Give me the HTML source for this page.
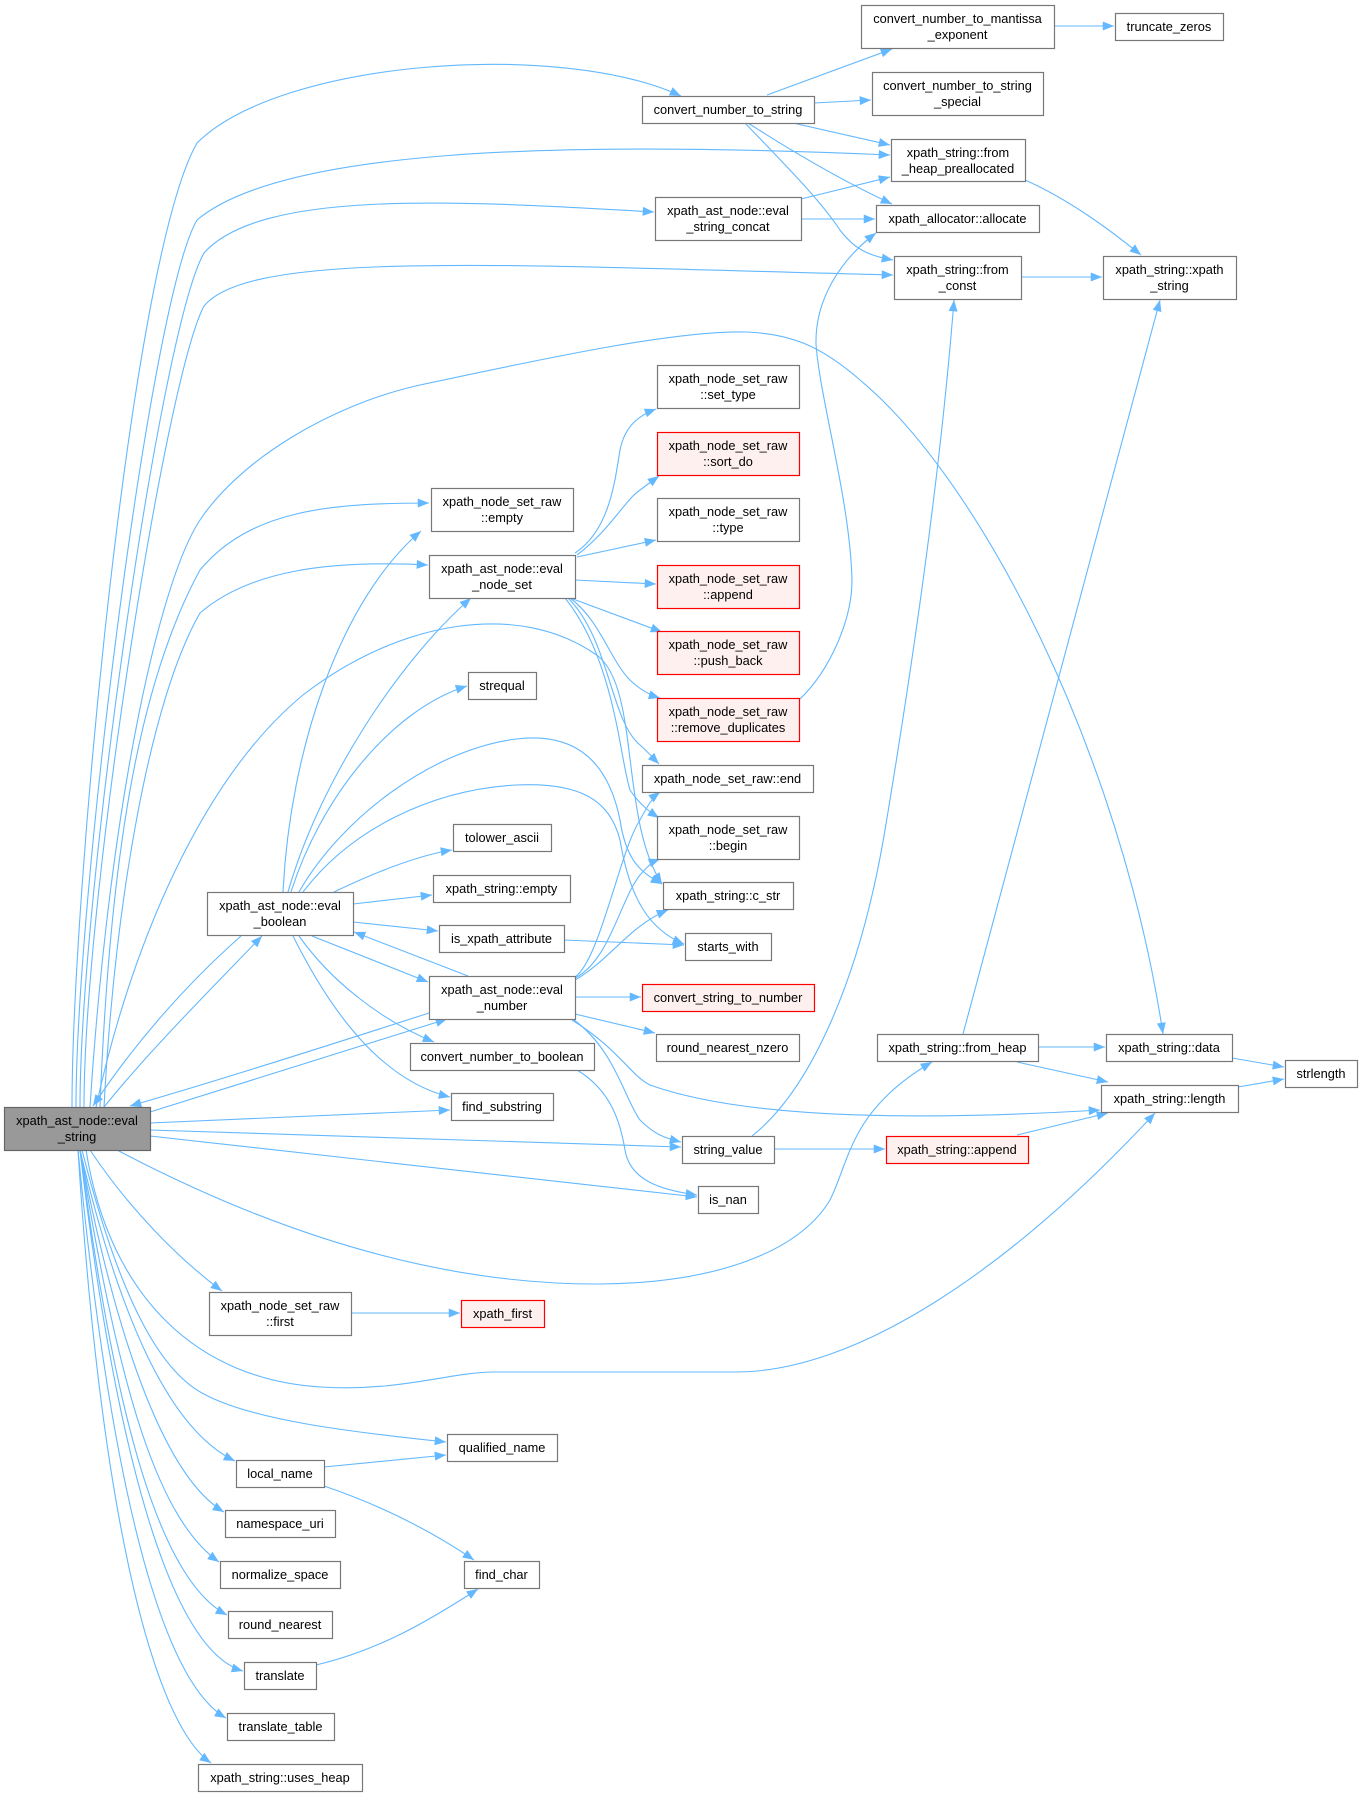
<!DOCTYPE html>
<html><head><meta charset="utf-8"><style>
html,body{margin:0;padding:0;background:#fff;}
svg{display:block;}
.e{fill:none;stroke:#63b8ff;stroke-width:1.1;marker-end:url(#ah);}
.n{fill:#fff;stroke:#777;stroke-width:1.2;}
.r{fill:#fff0f0;stroke:#f00;stroke-width:1.2;}
.g{fill:#999;stroke:#666;stroke-width:1.2;}
text{font-family:"Liberation Sans",Arial,sans-serif;font-size:12.8px;text-anchor:middle;fill:#000;}
</style></head><body>
<svg width="1362" height="1796" viewBox="0 0 1362 1796" xmlns="http://www.w3.org/2000/svg">
<defs><marker id="ah" viewBox="0 0 10 8" refX="10" refY="4" markerWidth="12" markerHeight="9" orient="auto" markerUnits="userSpaceOnUse"><path d="M0,0L10,4L0,8z" fill="#63b8ff"/></marker></defs>
<g>
<!-- root edges up -->
<path class="e" d="M72,1107 C72,900 130,260 197,143 C280,60 560,40 681,96"/>
<path class="e" d="M76,1107 C76,900 150,300 197,220 C280,150 550,140 890,155"/>
<path class="e" d="M80,1107 C80,900 160,330 204,253 C260,190 450,200 654,212"/>
<path class="e" d="M84,1107 C84,900 165,380 204,306 C250,250 500,265 893,275"/>
<path class="e" d="M90,1107 C110,800 160,580 200,520 C240,460 330,405 420,385 C560,355 680,330 747,332 C790,334 820,345 860,380 C980,480 1120,750 1163,1034"/>
<path class="e" d="M100,1107 C110,850 140,680 200,570 C250,510 330,503 429,503"/>
<path class="e" d="M104,1107 C115,900 150,700 200,613 C250,570 330,560 428,565"/>
<path class="e" d="M96,1107 C130,950 200,780 303,695 C400,620 520,600 598,656 C640,690 620,820 662,884"/>
<!-- eval_boolean -->
<path class="e" d="M299,892 C340,820 430,750 516,739 C590,730 612,780 620,820 C626,860 640,872 662,884"/>
<path class="e" d="M303,892 C350,830 430,790 516,785 C580,782 610,800 620,840 C630,900 650,930 684,944"/>
<path class="e" d="M291,892 C320,800 390,710 467,686"/>
<path class="e" d="M288,892 C320,780 400,660 471,598"/>
<path class="e" d="M283,892 C290,750 340,600 421,531"/>
<path class="e" d="M334,892 C380,870 420,855 452,850"/>
<path class="e" d="M353,904 L432,895"/>
<path class="e" d="M353,922 L438,931"/>
<path class="e" d="M468,976 L354,932"/>
<path class="e" d="M312,936 L428,982"/>
<path class="e" d="M299,936 C330,980 380,1020 434,1042"/>
<path class="e" d="M293,936 C330,1010 380,1080 450,1097"/>
<path class="e" d="M241,936 C180,990 130,1050 93,1106"/>
<path class="e" d="M104,1107 C150,1050 210,990 262,936"/>
<path class="e" d="M429,1013 C330,1045 220,1080 130,1106"/>
<path class="e" d="M150,1112 C250,1080 350,1050 447,1019"/>
<path class="e" d="M150,1123 L450,1110"/>
<path class="e" d="M150,1130 L681,1147"/>
<path class="e" d="M150,1136 L697,1197"/>
<path class="e" d="M117,1150 C250,1220 420,1285 600,1284 C720,1283 800,1250 830,1200 C850,1160 850,1110 932,1062"/>
<path class="e" d="M86,1150 C110,1300 200,1380 321,1387 C400,1392 450,1372 494,1372 L736,1372 C850,1372 1000,1280 1155,1113"/>
<path class="e" d="M90,1150 C130,1210 180,1260 222,1291"/>
<path class="e" d="M82,1150 C120,1300 160,1370 202,1393 C250,1420 350,1432 446,1442"/>
<path class="e" d="M80,1150 C120,1320 170,1430 235,1461"/>
<path class="e" d="M80,1150 C120,1360 170,1480 224,1512"/>
<path class="e" d="M80,1150 C120,1400 160,1520 219,1562"/>
<path class="e" d="M80,1150 C115,1420 160,1580 227,1615"/>
<path class="e" d="M80,1150 C115,1450 170,1650 243,1671"/>
<path class="e" d="M78,1150 C110,1480 160,1680 226,1718"/>
<path class="e" d="M78,1150 C100,1500 150,1720 211,1763"/>
<path class="e" d="M324,1467 L446,1455"/>
<path class="e" d="M324,1486 C380,1505 430,1530 474,1560"/>
<path class="e" d="M316,1665 C380,1650 430,1620 478,1589"/>
<path class="e" d="M351,1313 L460,1313"/>
<!-- eval_number -->
<path class="e" d="M575,997 L641,997"/>
<path class="e" d="M575,1014 L655,1033"/>
<path class="e" d="M574,1020 C615,1050 625,1100 640,1120 C655,1135 665,1138 681,1142"/>
<path class="e" d="M572,1020 C620,1050 630,1075 650,1085 C720,1110 850,1125 1100,1110"/>
<path class="e" d="M575,977 C600,960 620,850 640,820 C648,805 652,798 660,792"/>
<path class="e" d="M575,978 C610,960 620,900 640,875 C648,866 652,862 660,859"/>
<path class="e" d="M575,980 C610,960 630,925 668,910"/>
<!-- eval_node_set -->
<path class="e" d="M575,553 C610,530 615,480 620,450 C625,425 640,415 656,409"/>
<path class="e" d="M577,555 C610,530 625,500 640,490 L659,476"/>
<path class="e" d="M577,557 L656,540"/>
<path class="e" d="M575,580 L656,584"/>
<path class="e" d="M573,599 L662,632"/>
<path class="e" d="M570,598 C600,620 610,660 630,680 C640,690 650,695 660,698"/>
<path class="e" d="M568,598 C610,640 610,720 640,745 C648,752 652,757 659,764"/>
<path class="e" d="M565,598 C615,660 620,760 630,790 C640,805 650,812 659,818"/>
<path class="e" d="M800,699 C830,670 852,620 852,580 C850,500 820,400 816,344 C815,300 840,260 876,233"/>
<!-- top -->
<path class="e" d="M767,95 L892,49"/>
<path class="e" d="M814,103 L871,100"/>
<path class="e" d="M793,123 L890,145"/>
<path class="e" d="M748,123 C790,150 840,180 892,204"/>
<path class="e" d="M745,123 C790,170 820,200 840,230 C855,250 870,256 893,260"/>
<path class="e" d="M801,199 L890,177"/>
<path class="e" d="M801,219 L875,219"/>
<path class="e" d="M1025,180 C1070,200 1110,230 1141,255"/>
<path class="e" d="M1021,277 L1102,277"/>
<path class="e" d="M1054,26 L1114,26"/>
<path class="e" d="M963,1034 L1160,300"/>
<path class="e" d="M752,1136 C810,1090 860,980 885,830 C910,680 940,480 954,300"/>
<path class="e" d="M774,1149 L885,1149"/>
<path class="e" d="M1017,1135 L1108,1113"/>
<path class="e" d="M1038,1047 L1105,1047"/>
<path class="e" d="M1017,1062 L1108,1082"/>
<path class="e" d="M1232,1058 L1284,1067"/>
<path class="e" d="M1238,1087 L1284,1079"/>
<path class="e" d="M564,940 L684,945"/>
<path class="e" d="M577,1070 C610,1090 620,1120 625,1150 C630,1180 660,1190 697,1195"/>
</g>
<g>
<rect class="g" x="4.5" y="1107.5" width="146" height="43"/><text x="77" y="1125">xpath_ast_node::eval</text><text x="77" y="1141">_string</text>
<rect class="n" x="642.5" y="96.5" width="172" height="27"/><text x="728" y="114">convert_number_to_string</text>
<rect class="n" x="861.5" y="5.5" width="193" height="43"/><text x="957.5" y="23">convert_number_to_mantissa</text><text x="957.5" y="39">_exponent</text>
<rect class="n" x="1115.5" y="13.5" width="108" height="27"/><text x="1169" y="31">truncate_zeros</text>
<rect class="n" x="872.5" y="72.5" width="171" height="43"/><text x="957.5" y="90">convert_number_to_string</text><text x="957.5" y="106">_special</text>
<rect class="n" x="891.5" y="139.5" width="134" height="42"/><text x="958" y="157">xpath_string::from</text><text x="958" y="173">_heap_preallocated</text>
<rect class="n" x="655.5" y="197.5" width="146" height="43"/><text x="728" y="215">xpath_ast_node::eval</text><text x="728" y="231">_string_concat</text>
<rect class="n" x="876.5" y="205.5" width="163" height="27"/><text x="957.5" y="223">xpath_allocator::allocate</text>
<rect class="n" x="894.5" y="256.5" width="127" height="43"/><text x="957.5" y="274">xpath_string::from</text><text x="957.5" y="290">_const</text>
<rect class="n" x="1103.5" y="256.5" width="133" height="43"/><text x="1169.5" y="274">xpath_string::xpath</text><text x="1169.5" y="290">_string</text>
<rect class="n" x="657.5" y="365.5" width="142" height="43"/><text x="728" y="383">xpath_node_set_raw</text><text x="728" y="399">::set_type</text>
<rect class="r" x="657.5" y="432.5" width="142" height="43"/><text x="728" y="450">xpath_node_set_raw</text><text x="728" y="466">::sort_do</text>
<rect class="n" x="657.5" y="498.5" width="142" height="43"/><text x="728" y="516">xpath_node_set_raw</text><text x="728" y="532">::type</text>
<rect class="r" x="657.5" y="565.5" width="142" height="43"/><text x="728" y="583">xpath_node_set_raw</text><text x="728" y="599">::append</text>
<rect class="r" x="657.5" y="631.5" width="142" height="43"/><text x="728" y="649">xpath_node_set_raw</text><text x="728" y="665">::push_back</text>
<rect class="r" x="657.5" y="698.5" width="142" height="43"/><text x="728" y="716">xpath_node_set_raw</text><text x="728" y="732">::remove_duplicates</text>
<rect class="n" x="642.5" y="765.5" width="171" height="27"/><text x="727.5" y="783">xpath_node_set_raw::end</text>
<rect class="n" x="657.5" y="816.5" width="142" height="43"/><text x="728" y="834">xpath_node_set_raw</text><text x="728" y="850">::begin</text>
<rect class="n" x="663.5" y="882.5" width="130" height="27"/><text x="728" y="900">xpath_string::c_str</text>
<rect class="n" x="685.5" y="933.5" width="86" height="27"/><text x="728" y="951">starts_with</text>
<rect class="r" x="642.5" y="984.5" width="172" height="27"/><text x="728" y="1002">convert_string_to_number</text>
<rect class="n" x="656.5" y="1034.5" width="143" height="27"/><text x="727.5" y="1052">round_nearest_nzero</text>
<rect class="n" x="877.5" y="1034.5" width="161" height="27"/><text x="957.5" y="1052">xpath_string::from_heap</text>
<rect class="n" x="1106.5" y="1034.5" width="126" height="27"/><text x="1169" y="1052">xpath_string::data</text>
<rect class="n" x="1285.5" y="1060.5" width="72" height="27"/><text x="1321" y="1078">strlength</text>
<rect class="n" x="1101.5" y="1085.5" width="137" height="27"/><text x="1169.5" y="1103">xpath_string::length</text>
<rect class="n" x="682.5" y="1136.5" width="92" height="27"/><text x="728" y="1154">string_value</text>
<rect class="r" x="886.5" y="1136.5" width="142" height="27"/><text x="957" y="1154">xpath_string::append</text>
<rect class="n" x="698.5" y="1186.5" width="60" height="27"/><text x="728" y="1204">is_nan</text>
<rect class="n" x="431.5" y="488.5" width="142" height="43"/><text x="502" y="506">xpath_node_set_raw</text><text x="502" y="522">::empty</text>
<rect class="n" x="429.5" y="555.5" width="146" height="43"/><text x="502" y="573">xpath_ast_node::eval</text><text x="502" y="589">_node_set</text>
<rect class="n" x="468.5" y="672.5" width="68" height="27"/><text x="502" y="690">strequal</text>
<rect class="n" x="453.5" y="824.5" width="98" height="27"/><text x="502" y="842">tolower_ascii</text>
<rect class="n" x="433.5" y="875.5" width="137" height="27"/><text x="501.5" y="893">xpath_string::empty</text>
<rect class="n" x="207.5" y="892.5" width="146" height="43"/><text x="280" y="910">xpath_ast_node::eval</text><text x="280" y="926">_boolean</text>
<rect class="n" x="439.5" y="925.5" width="125" height="27"/><text x="501.5" y="943">is_xpath_attribute</text>
<rect class="n" x="429.5" y="976.5" width="146" height="43"/><text x="502" y="994">xpath_ast_node::eval</text><text x="502" y="1010">_number</text>
<rect class="n" x="410.5" y="1043.5" width="184" height="27"/><text x="502" y="1061">convert_number_to_boolean</text>
<rect class="n" x="451.5" y="1093.5" width="102" height="27"/><text x="502" y="1111">find_substring</text>
<rect class="n" x="209.5" y="1292.5" width="142" height="43"/><text x="280" y="1310">xpath_node_set_raw</text><text x="280" y="1326">::first</text>
<rect class="r" x="461.5" y="1300.5" width="83" height="27"/><text x="502.5" y="1318">xpath_first</text>
<rect class="n" x="447.5" y="1434.5" width="110" height="27"/><text x="502" y="1452">qualified_name</text>
<rect class="n" x="236.5" y="1460.5" width="88" height="27"/><text x="280" y="1478">local_name</text>
<rect class="n" x="225.5" y="1510.5" width="110" height="27"/><text x="280" y="1528">namespace_uri</text>
<rect class="n" x="464.5" y="1561.5" width="75" height="27"/><text x="501.5" y="1579">find_char</text>
<rect class="n" x="220.5" y="1561.5" width="120" height="27"/><text x="280" y="1579">normalize_space</text>
<rect class="n" x="228.5" y="1611.5" width="104" height="27"/><text x="280" y="1629">round_nearest</text>
<rect class="n" x="244.5" y="1662.5" width="72" height="27"/><text x="280" y="1680">translate</text>
<rect class="n" x="227.5" y="1713.5" width="107" height="27"/><text x="280.5" y="1731">translate_table</text>
<rect class="n" x="198.5" y="1764.5" width="164" height="27"/><text x="280" y="1782">xpath_string::uses_heap</text>
</g>
</svg>
</body></html>
